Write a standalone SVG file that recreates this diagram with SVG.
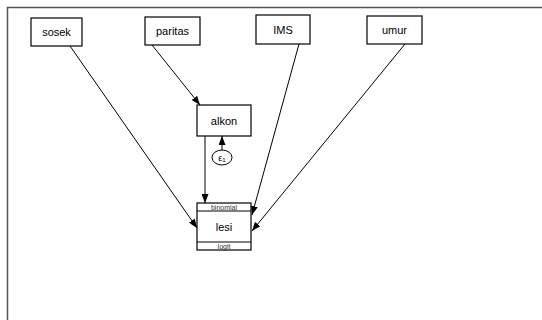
<svg xmlns="http://www.w3.org/2000/svg" width="542" height="320" viewBox="0 0 542 320">
<style>
.box{fill:#fff;stroke:#000;stroke-width:1.2}
.lbl{font-family:"Liberation Sans",Arial,sans-serif;font-size:11px;fill:#000;text-anchor:middle;dominant-baseline:central}
.sm{font-family:"Liberation Sans",Arial,sans-serif;font-size:7px;fill:#333;text-anchor:middle;dominant-baseline:central}
.edge{stroke:#000;stroke-width:1;fill:none;marker-end:url(#ah)}
</style>
<defs>
<marker id="ah" markerWidth="9" markerHeight="7" refX="9" refY="3.5" orient="auto" markerUnits="userSpaceOnUse">
<path d="M0,0 L9,3.5 L0,7 z" fill="#000"/>
</marker>
</defs>
<rect x="0" y="0" width="542" height="320" fill="#fff"/>
<path d="M7.5,320 V7.5 H542" fill="none" stroke="#555" stroke-width="1.5"/>
<g id="connectors">
<line class="edge" x1="70" y1="46" x2="197" y2="228"/>
<line class="edge" x1="152" y1="45" x2="200" y2="105"/>
<line class="edge" x1="299" y1="44" x2="252" y2="215"/>
<line class="edge" x1="405" y1="44" x2="252" y2="231"/>
<line class="edge" x1="205" y1="136" x2="205" y2="203"/>
<line class="edge" x1="222" y1="150" x2="222" y2="136"/>
</g>
<g id="sosek"><rect class="box" x="31" y="18" width="51" height="28"/><text class="lbl" x="56.5" y="32">sosek</text></g>
<g id="paritas"><rect class="box" x="145" y="17" width="55" height="28"/><text class="lbl" x="172.5" y="31">paritas</text></g>
<g id="IMS"><rect class="box" x="256" y="15" width="54" height="29"/><text class="lbl" x="283" y="29.5">IMS</text></g>
<g id="umur"><rect class="box" x="367" y="16" width="55" height="28"/><text class="lbl" x="394.5" y="30">umur</text></g>
<g id="alkon"><rect class="box" x="197" y="105" width="54" height="31"/><text class="lbl" x="224" y="120.5">alkon</text></g>
<g id="e1"><ellipse cx="222" cy="157.5" rx="10" ry="7.5" fill="#fff" stroke="#000" stroke-width="1"/><text class="sm" x="222" y="158" style="fill:#000;font-size:9px">ε<tspan font-size="6" dy="1.5">1</tspan></text></g>
<g id="lesi">
<rect class="box" x="197" y="203" width="54" height="47" stroke-width="1.5"/>
<line x1="197" y1="211" x2="251" y2="211" stroke="#000" stroke-width="1.2"/>
<line x1="197" y1="242" x2="251" y2="242" stroke="#000" stroke-width="1.2"/>
<text class="sm" x="224" y="207">binomial</text>
<text class="lbl" x="224" y="226.5">lesi</text>
<text class="sm" x="224" y="246">logit</text>
</g>
</svg>
